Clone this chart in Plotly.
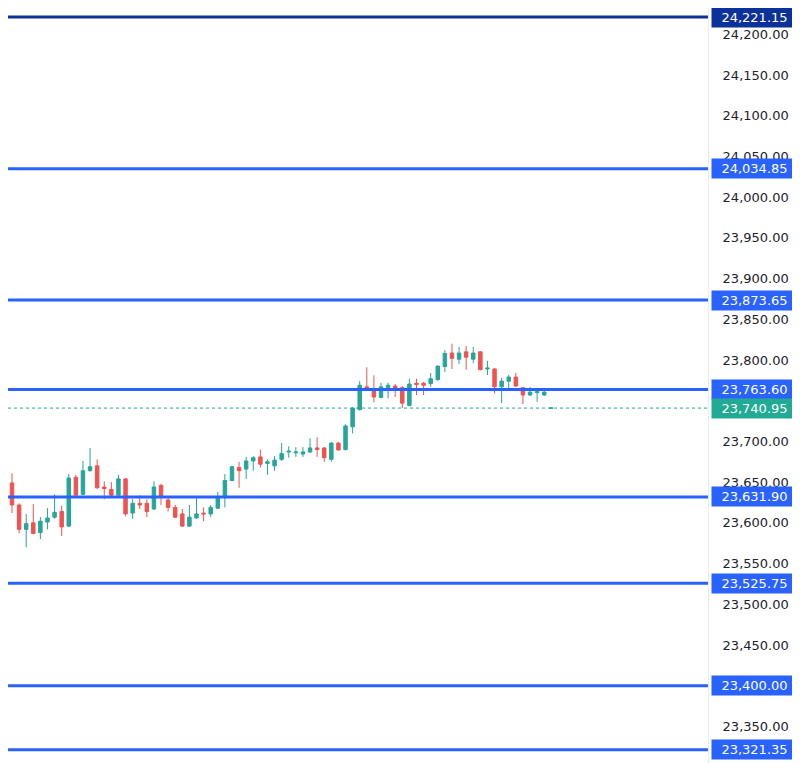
import plotly.graph_objects as go

# ---- data ----
bar_index = [0] + list(range(2, 79))

opens = [23579, 23649, 23622, 23592, 23600, 23588, 23601, 23607, 23614, 23596,
         23656, 23635, 23664, 23670, 23644, 23641, 23634, 23654, 23612, 23624,
         23624, 23617, 23646, 23628, 23619, 23611, 23596, 23606, 23612, 23611,
         23618, 23631, 23652, 23668, 23666, 23676, 23681, 23673, 23670, 23678,
         23687, 23686, 23684.5, 23687, 23692, 23692, 23678, 23698, 23690, 23718,
         23739, 23767, 23763, 23754, 23766, 23768, 23766, 23744, 23771.5, 23771.5,
         23771, 23776, 23792, 23808.5, 23801, 23810, 23801, 23810, 23789, 23789,
         23767, 23774, 23779, 23766, 23757, 23760, 23757, 23740.9]
highs = [23583, 23661, 23624, 23611, 23623, 23607, 23618, 23635, 23621, 23660,
         23659, 23676, 23692, 23678, 23651, 23650, 23659, 23655, 23629, 23634,
         23629, 23651, 23648, 23632, 23622, 23617, 23622, 23630, 23619, 23622,
         23638, 23660, 23670, 23675, 23681, 23682, 23690, 23678, 23682, 23698,
         23694, 23693, 23693, 23704, 23705, 23693, 23699, 23699, 23721, 23742,
         23774, 23791, 23781, 23772, 23772, 23770.5, 23768, 23777, 23777, 23773,
         23784, 23793, 23812, 23820, 23816, 23817, 23816, 23810.5, 23799, 23790,
         23778, 23781.5, 23784, 23767, 23767, 23762, 23762, 23741.2]
lows = [23543, 23612, 23587, 23570, 23586, 23580, 23592, 23605, 23584, 23595,
        23633, 23634, 23663, 23642, 23629, 23632, 23633, 23608, 23605, 23617,
        23607, 23616, 23622, 23614, 23606, 23595, 23595, 23605, 23602, 23607,
        23617, 23619, 23651, 23643, 23654, 23664, 23668, 23659, 23664, 23676,
        23680, 23681, 23681, 23686, 23681, 23675, 23675, 23689, 23689, 23710,
        23738, 23762, 23748, 23753, 23753, 23754.5, 23741, 23743, 23757, 23757,
        23767, 23774, 23785, 23789, 23795, 23788, 23796, 23787.5, 23781.5, 23759,
        23747, 23764, 23767, 23746, 23756, 23748.5, 23756, 23740.7]
closes = [23546, 23622, 23592, 23599, 23587, 23602, 23606, 23613, 23595, 23655,
          23634, 23664, 23669, 23643, 23642, 23634, 23654, 23611, 23624, 23622,
          23614, 23644, 23632, 23619, 23607, 23596, 23607, 23611, 23611, 23619,
          23632, 23652, 23669, 23664, 23676, 23680, 23672, 23675, 23677, 23685,
          23688, 23687, 23687, 23692, 23690, 23680, 23698, 23689.5, 23719, 23741,
          23769, 23763, 23754.5, 23767, 23769, 23765.5, 23747, 23770.5, 23770, 23769,
          23777, 23792.5, 23808, 23802, 23808.5, 23803.5, 23808.5, 23788, 23790, 23767,
          23774, 23779, 23768, 23757, 23760.5, 23761, 23760.5, 23740.95]

levels = [24221.15, 24034.85, 23873.65, 23763.60, 23631.90, 23525.75, 23400.00, 23321.35]
level_colors = ["#0C3299", "#2962FF", "#2962FF", "#2962FF", "#2962FF", "#2962FF", "#2962FF", "#2962FF"]
last_price = 23740.95

tick_values = [24200, 24150, 24100, 24050, 24000, 23950, 23900, 23850, 23800, 23750,
               23700, 23650, 23600, 23550, 23500, 23450, 23400, 23350]
tick_labels = [f"{v:,.2f}" for v in tick_values]

UP = "#26A69A"
DOWN = "#EF5350"
FONT = "DejaVu Sans"

fig = go.Figure()
fig.add_trace(go.Candlestick(
    x=bar_index, open=opens, high=highs, low=lows, close=closes,
    increasing=dict(line=dict(color=UP, width=1), fillcolor=UP),
    decreasing=dict(line=dict(color=DOWN, width=1), fillcolor=DOWN),
    whiskerwidth=0, showlegend=False, hoverinfo="skip",
))

shapes = []
annotations = []
BOX_X = 1.004
for lv, col in zip(levels, level_colors):
    shapes.append(dict(type="line", xref="paper", x0=0, x1=1, yref="y", y0=lv, y1=lv,
                       line=dict(color=col, width=3), layer="above"))
    annotations.append(dict(xref="paper", x=BOX_X, xanchor="left", yref="y", y=lv,
                            yanchor="middle", text=f"{lv:,.2f}", showarrow=False,
                            bgcolor=col, borderpad=2, width=81, align="center",
                            font=dict(family=FONT, size=13, color="white")))

shapes.append(dict(type="line", xref="paper", x0=0, x1=1, yref="y", y0=last_price, y1=last_price,
                   line=dict(color=UP, width=1, dash="dot"), layer="below"))
annotations.append(dict(xref="paper", x=BOX_X, xanchor="left", yref="y", y=last_price,
                        yanchor="middle", text=f"{last_price:,.2f}", showarrow=False,
                        bgcolor="#22AB94", borderpad=2, width=81, align="center",
                        font=dict(family=FONT, size=13, color="white")))

fig.update_layout(
    width=800, height=763,
    margin=dict(l=0, r=100, t=0, b=0, autoexpand=False),
    paper_bgcolor="white", plot_bgcolor="white",
    shapes=shapes, annotations=annotations,
    showlegend=False,
    xaxis=dict(range=[1.436, 100.08], showgrid=False, zeroline=False, showticklabels=False,
               rangeslider=dict(visible=False), fixedrange=True, showline=False),
    yaxis=dict(range=[23295.3, 24232.2], side="right", showgrid=False, zeroline=False,
               tickvals=tick_values, ticktext=tick_labels, ticks="",
               ticklabelstandoff=11, automargin=False,
               tickfont=dict(family=FONT, size=13, color="#1E222D"),
               showline=True, linecolor="#E9EBF0", linewidth=1, fixedrange=True),
)

fig.write_html("out.html")
